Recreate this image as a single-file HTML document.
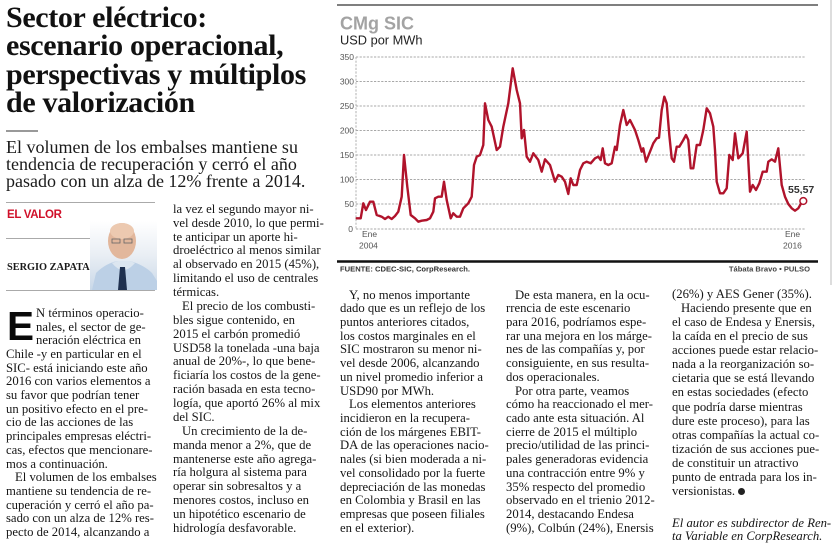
<!DOCTYPE html>
<html><head><meta charset="utf-8">
<style>
html,body{margin:0;padding:0;background:#fff;}
body{width:835px;height:550px;position:relative;overflow:hidden;font-family:"Liberation Serif",serif;color:#222;}
.abs{position:absolute;}
.title{left:6px;top:3.6px;font-weight:bold;font-size:30px;line-height:28.5px;color:#111;white-space:nowrap;letter-spacing:-0.35px;}
.sub{left:6px;top:139.4px;font-size:18px;line-height:17px;color:#1a1a1a;white-space:nowrap;}
.col{font-size:12.7px;white-space:nowrap;color:#161616;}
.in{padding-left:9px;}
</style></head><body>

<div class="abs title">Sector eléctrico:<br>escenario operacional,<br>perspectivas y múltiplos<br>de valorización</div>
<div class="abs" style="left:6px;top:130px;width:32px;height:1.5px;background:#999;"></div>
<div class="abs sub">El volumen de los embalses mantiene su<br>tendencia de recuperación y cerró el año<br>pasado con un alza de 12% frente a 2014.</div>

<!-- El valor box -->
<div class="abs" style="left:6px;top:201.5px;width:149px;height:1.2px;background:#aaa;"></div>
<div class="abs" style="left:7px;top:209px;font-family:'Liberation Sans',sans-serif;font-weight:bold;font-size:11.5px;letter-spacing:-0.3px;color:#d0102a;">EL VALOR</div>
<div class="abs" style="left:6px;top:237.5px;width:84px;height:1.2px;background:#aaa;"></div>
<div class="abs" style="left:7px;top:262px;font-weight:bold;font-size:10.3px;color:#1a1a1a;">SERGIO ZAPATA</div>
<div class="abs" style="left:6px;top:290px;width:149px;height:1.2px;background:#aaa;"></div>
<svg class="abs" style="left:90px;top:221px;" width="67" height="69" viewBox="0 0 67 69">
<defs><linearGradient id="bg" x1="0" y1="0" x2="0" y2="1"><stop offset="0" stop-color="#ffffff"/><stop offset="0.5" stop-color="#e9eef4"/><stop offset="1" stop-color="#c9d8e8"/></linearGradient></defs>
<rect width="67" height="69" fill="url(#bg)"/>
<path d="M2 69 L6 52 Q16 42 28 40 L40 40 Q54 44 62 52 L67 60 L67 69 Z" fill="#bcd0e6"/>
<path d="M22 42 Q33 56 45 42 L40 40 L28 40 Z" fill="#dce6f0"/>
<ellipse cx="32" cy="20" rx="14" ry="18" fill="#e2b79c"/>
<ellipse cx="32" cy="10" rx="12" ry="8" fill="#ecc9b0"/>
<rect x="22" y="18" width="8" height="4" fill="none" stroke="#666" stroke-width="0.8"/>
<rect x="34" y="18" width="8" height="4" fill="none" stroke="#666" stroke-width="0.8"/>
<path d="M30 46 L35 46 L37 69 L28 69 Z" fill="#1f3150"/>
</svg>

<!-- Column 1 -->
<div class="abs" style="left:7px;top:306px;font-family:'Liberation Sans',sans-serif;font-weight:bold;font-size:40.5px;line-height:40px;color:#0a0a0a;">E</div>
<div class="abs col" style="left:6px;top:306.8px;line-height:13.7px;">
<div style="padding-left:30px">N términos operacio-</div>
<div style="padding-left:30px">nales, el sector de ge-</div>
<div style="padding-left:30px">neración eléctrica en</div>
<div>Chile -y en particular en el</div>
<div>SIC- está iniciando este año</div>
<div>2016 con varios elementos a</div>
<div>su favor que podrían tener</div>
<div>un positivo efecto en el pre-</div>
<div>cio de las acciones de las</div>
<div>principales empresas eléctri-</div>
<div>cas, efectos que mencionare-</div>
<div>mos a continuación.</div>
<div class="in">El volumen de los embalses</div>
<div>mantiene su tendencia de re-</div>
<div>cuperación y cerró el año pa-</div>
<div>sado con un alza de 12% res-</div>
<div>pecto de 2014, alcanzando a</div>
</div>

<!-- Column 2 -->
<div class="abs col" style="left:173px;top:202.8px;line-height:13.87px;">
<div>la vez el segundo mayor ni-</div>
<div>vel desde 2010, lo que permi-</div>
<div>te anticipar un aporte hi-</div>
<div>droeléctrico al menos similar</div>
<div>al observado en 2015 (45%),</div>
<div>limitando el uso de centrales</div>
<div>térmicas.</div>
<div class="in">El precio de los combusti-</div>
<div>bles sigue contenido, en</div>
<div>2015 el carbón promedió</div>
<div>USD58 la tonelada -una baja</div>
<div>anual de 20%-, lo que bene-</div>
<div>ficiaría los costos de la gene-</div>
<div>ración basada en esta tecno-</div>
<div>logía, que aportó 26% al mix</div>
<div>del SIC.</div>
<div class="in">Un crecimiento de la de-</div>
<div>manda menor a 2%, que de</div>
<div>mantenerse este año agrega-</div>
<div>ría holgura al sistema para</div>
<div>operar sin sobresaltos y a</div>
<div>menores costos, incluso en</div>
<div>un hipotético escenario de</div>
<div>hidrología desfavorable.</div>
</div>

<!-- Column 3 -->
<div class="abs col" style="left:340px;top:288.5px;line-height:13.72px;">
<div class="in">Y, no menos importante</div>
<div>dado que es un reflejo de los</div>
<div>puntos anteriores citados,</div>
<div>los costos marginales en el</div>
<div>SIC mostraron su menor ni-</div>
<div>vel desde 2006, alcanzando</div>
<div>un nivel promedio inferior a</div>
<div>USD90 por MWh.</div>
<div class="in">Los elementos anteriores</div>
<div>incidieron en la recupera-</div>
<div>ción de los márgenes EBIT-</div>
<div>DA de las operaciones nacio-</div>
<div>nales (si bien moderada a ni-</div>
<div>vel consolidado por la fuerte</div>
<div>depreciación de las monedas</div>
<div>en Colombia y Brasil en las</div>
<div>empresas que poseen filiales</div>
<div>en el exterior).</div>
</div>

<!-- Column 4 -->
<div class="abs col" style="left:506px;top:288.5px;line-height:13.72px;">
<div class="in">De esta manera, en la ocu-</div>
<div>rrencia de este escenario</div>
<div>para 2016, podríamos espe-</div>
<div>rar una mejora en los márge-</div>
<div>nes de las compañías y, por</div>
<div>consiguiente, en sus resulta-</div>
<div>dos operacionales.</div>
<div class="in">Por otra parte, veamos</div>
<div>cómo ha reaccionado el mer-</div>
<div>cado ante esta situación. Al</div>
<div>cierre de 2015 el múltiplo</div>
<div>precio/utilidad de las princi-</div>
<div>pales generadoras evidencia</div>
<div>una contracción entre 9% y</div>
<div>35% respecto del promedio</div>
<div>observado en el trienio 2012-</div>
<div>2014, destacando Endesa</div>
<div>(9%), Colbún (24%), Enersis</div>
</div>

<!-- Column 5 -->
<div class="abs col" style="left:672px;top:286.8px;line-height:14.1px;">
<div>(26%) y AES Gener (35%).</div>
<div class="in">Haciendo presente que en</div>
<div>el caso de Endesa y Enersis,</div>
<div>la caída en el precio de sus</div>
<div>acciones puede estar relacio-</div>
<div>nada a la reorganización so-</div>
<div>cietaria que se está llevando</div>
<div>en estas sociedades (efecto</div>
<div>que podría darse mientras</div>
<div>dure este proceso), para las</div>
<div>otras compañías la actual co-</div>
<div>tización de sus acciones pue-</div>
<div>de constituir un atractivo</div>
<div>punto de entrada para los in-</div>
<div>versionistas. <span style="display:inline-block;width:7px;height:7px;border-radius:50%;background:#222;"></span></div>
</div>
<div class="abs col" style="left:672px;top:517px;line-height:13.4px;font-style:italic;">
<div>El autor es subdirector de Ren-</div>
<div>ta Variable en CorpResearch.</div>
</div>

<!-- Chart -->
<svg class="abs" style="left:0;top:0;" width="835" height="290" viewBox="0 0 835 290">
<line x1="337" y1="5" x2="818" y2="5" stroke="#555" stroke-width="1.5"/>
<line x1="831" y1="0" x2="831" y2="285" stroke="#bbb" stroke-width="1"/>
<text x="340" y="29.5" font-family="Liberation Sans, sans-serif" font-weight="bold" font-size="18" fill="#a3a3a3">CMg SIC</text>
<text x="340" y="44.5" font-family="Liberation Sans, sans-serif" font-size="12.8" fill="#222">USD por MWh</text>
<g stroke="#a8a8a8" stroke-width="0.9" stroke-dasharray="2.2 1.4">
<line x1="356" y1="57" x2="806" y2="57"/>
<line x1="356" y1="81.5" x2="806" y2="81.5"/>
<line x1="356" y1="106" x2="806" y2="106"/>
<line x1="356" y1="130.5" x2="806" y2="130.5"/>
<line x1="356" y1="155" x2="806" y2="155"/>
<line x1="356" y1="179.5" x2="806" y2="179.5"/>
<line x1="356" y1="204" x2="806" y2="204"/>
<line x1="356" y1="229" x2="806" y2="229"/>
<line x1="356" y1="57" x2="356" y2="229"/>
</g>
<g font-family="Liberation Sans, sans-serif" font-size="8.5" fill="#555" text-anchor="end">
<text x="354" y="60">350</text>
<text x="354" y="84.5">300</text>
<text x="354" y="109">250</text>
<text x="354" y="133.5">200</text>
<text x="354" y="158">150</text>
<text x="354" y="182.5">100</text>
<text x="354" y="207">50</text>
<text x="353" y="232">0</text>
</g>
<g font-family="Liberation Sans, sans-serif" font-size="8.5" fill="#555">
<text x="362" y="237">Ene</text>
<text x="359" y="248.5">2004</text>
<text x="785" y="237">Ene</text>
<text x="783" y="248.5">2016</text>
</g>
<polyline fill="none" stroke="#b0132b" stroke-width="2.4" stroke-linejoin="round" stroke-linecap="round" points="356.7,218.3 360.7,218.3 363.3,203.3 366,210 370,201.7 373.3,201.7 376.7,215 381.7,216.7 385,219 388.3,216.7 391.7,219 395,216 398.3,211.7 401.7,196.7 404,155 407.3,186.7 410.7,215 415,218.3 418.3,221.7 421.7,220.7 426.7,220 430,218.3 433.3,211.7 435,198.3 438.3,196.7 441.7,196.7 444,181.7 446.7,200 450.7,218.3 453.3,213.3 456.7,216.7 460,216.7 463.3,208.3 468.3,203.3 471.7,196.7 474,165 476.7,156.7 480,155 483.3,145 485,103.3 488.3,120 491.7,126.7 496.7,150 500,146.7 503.3,126.7 508.3,103.3 512.7,68.3 516.7,90 520,103.3 521.7,138.3 524,130 526.7,156.7 530,161.7 533.3,153.3 538.3,160 541.7,171.7 545,159.3 550,165 555,181.7 558.3,175 561.7,176.7 565,181.7 568.3,194 570.7,178.3 573.3,185 576.7,185 580,170 583.3,163.3 586.7,161.7 590.7,163.3 595,158.3 598.3,156.7 600.7,160 602.7,148.3 605,163.3 608.3,165 611.7,163.3 615,146.7 616.7,150 620,125 623.3,110 626.7,125 630,120 635,130 638.3,140 641.7,151.7 643.3,148.3 646,161.7 650,151.7 653.3,143.3 656.7,138.3 659,137.7 661.7,110 664.3,96.7 666.7,103.3 669.3,135 671.7,158.3 674,161.7 676.7,146.7 679.3,146.7 683.3,140 686,135 688.3,140 690.7,168.3 693.3,168.3 696.7,145 700,145 703.3,130 706.7,108.3 710,113.3 713.3,126.7 715,150 716.7,181.7 720,193.3 723.3,193.3 726.7,188.3 729.3,155 732.7,160 735,133.3 738.3,158.3 742.7,153.3 746.7,131.7 750,191.7 752.7,185 756,190 759.3,183.3 762.7,171.7 766.7,171.7 768.3,161.7 771.7,159.3 775,161.7 778.3,148.3 781.7,185 785,196.7 788.3,204 791.7,208.3 795,210.7 798.3,208.3 801.7,202.3"/>
<circle cx="803.3" cy="201" r="3.4" fill="#fff" stroke="#b0132b" stroke-width="1.5"/>
<text x="788" y="193" font-family="Liberation Sans, sans-serif" font-weight="bold" font-size="10.5" fill="#333">55,57</text>
<line x1="337" y1="261.5" x2="818" y2="261.5" stroke="#111" stroke-width="2.6"/>
<text x="340" y="271.5" font-family="Liberation Sans, sans-serif" font-weight="bold" font-size="7.6" fill="#333">FUENTE: CDEC-SIC, CorpResearch.</text>
<text x="810" y="271.5" text-anchor="end" font-family="Liberation Sans, sans-serif" font-weight="bold" font-size="7.6" fill="#444">Tábata Bravo  • PULSO</text>
</svg>

</body></html>
